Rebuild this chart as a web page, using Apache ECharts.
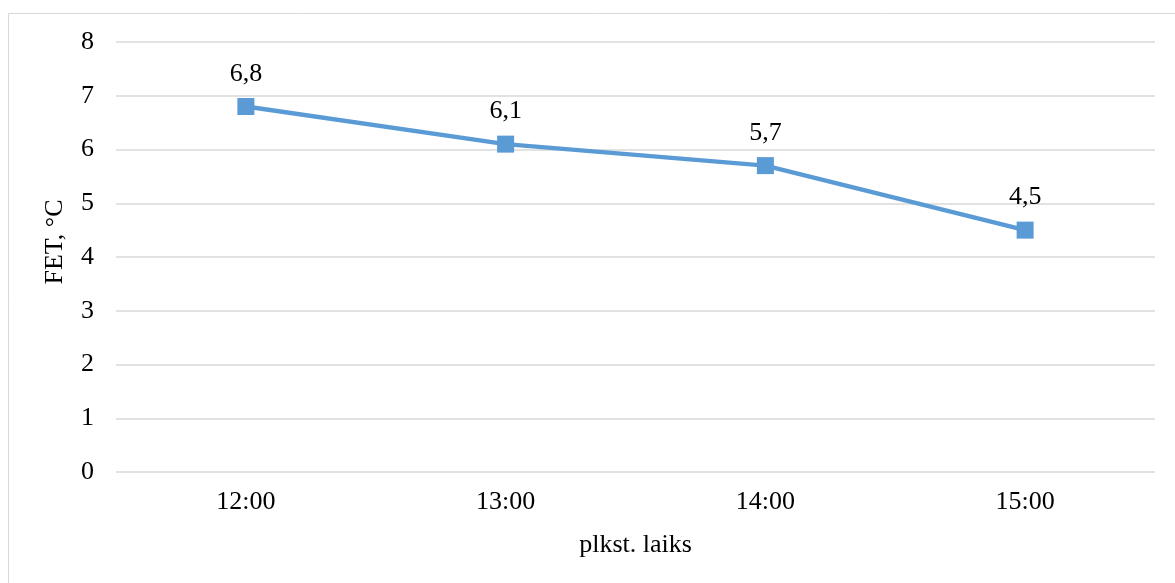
<!DOCTYPE html>
<html>
<head>
<meta charset="utf-8">
<script src="https://cdn.jsdelivr.net/npm/echarts@6/dist/echarts.min.js"></script>
<style>
  html, body { margin: 0; padding: 0; background: #fff; }
  #chart { width: 1175px; height: 583px; }
</style>
</head>
<body>
<div id="chart"></div>
<script>
// Time of measurement and the temperature recorded at each
const categories = ['12:00', '13:00', '14:00', '15:00'];
const fetValues = [6.8, 6.1, 5.7, 4.5];
const yTicks = { min: 0, max: 8, interval: 1 };

const FONT = '"Liberation Serif", "Times New Roman", serif';
const chart = echarts.init(document.getElementById('chart'), null, { renderer: 'canvas' });

chart.setOption({
  backgroundColor: '#ffffff',
  animation: false,
  graphic: [{
    type: 'rect',
    shape: { x: 8.5, y: 13.5, width: 1200, height: 600 },
    style: { fill: 'none', stroke: '#d9d9d9', lineWidth: 1 },
    silent: true
  }],
  grid: { left: 116, right: 20, top: 42, bottom: 111, containLabel: false },
  xAxis: {
    type: 'category',
    data: categories,
    boundaryGap: true,
    name: 'plkst. laiks',
    nameLocation: 'middle',
    nameGap: 60,
    nameTextStyle: { fontFamily: FONT, fontSize: 26, color: '#000' },
    axisLine: { show: false },
    axisTick: { show: false },
    axisLabel: { fontFamily: FONT, fontSize: 26, color: '#000', margin: 17 },
    splitLine: { show: false }
  },
  yAxis: {
    type: 'value',
    min: yTicks.min,
    max: yTicks.max,
    interval: yTicks.interval,
    name: 'FET, °C',
    nameLocation: 'middle',
    nameGap: 48,
    nameRotate: 90,
    nameTextStyle: { fontFamily: FONT, fontSize: 26, color: '#000', padding: [0, 0, 0, 30] },
    axisLine: { show: false },
    axisTick: { show: false },
    axisLabel: { fontFamily: FONT, fontSize: 26, color: '#000', margin: 22 },
    splitLine: { show: true, lineStyle: { color: '#d9d9d9', width: 1.5 } }
  },
  series: [{
    type: 'line',
    data: fetValues,
    symbol: 'rect',
    symbolSize: 17,
    lineStyle: { color: '#5b9bd5', width: 4.5 },
    itemStyle: { color: '#5b9bd5' },
    label: {
      show: true,
      position: 'top',
      distance: 11,
      fontFamily: FONT,
      fontSize: 26,
      color: '#000',
      formatter: p => String(p.value).replace('.', ',')
    }
  }]
});
</script>
</body>
</html>
